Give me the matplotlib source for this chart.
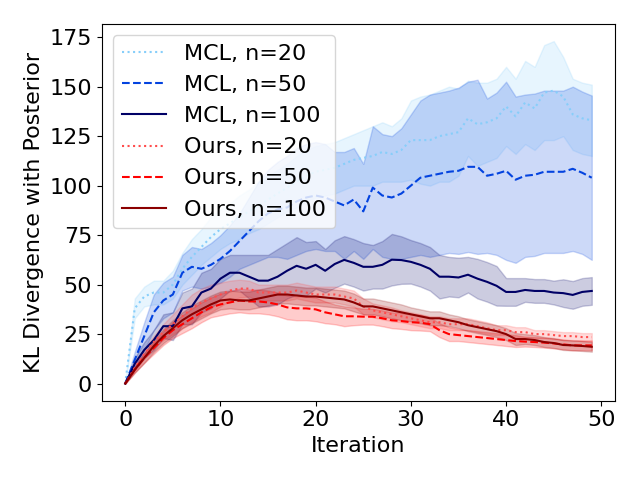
import numpy as np
import matplotlib
matplotlib.use("Agg")
import matplotlib.pyplot as plt

plt.rcParams['font.size'] = 16

iters = np.arange(50)

# MCL runs (mean and std)
mcl20 = [0, 38, 44, 46, 46, 50, 58, 64, 69, 74, 78, 81, 84, 87, 90, 93, 96, 99, 102, 105,
         107, 108, 109, 111, 113, 114, 115, 117, 116, 118, 123, 123, 123, 125, 126, 127, 134, 131, 132, 134,
         140, 135, 142, 139, 147, 148, 145, 136, 134, 133]
mcl20_std = [0, 5, 5, 6, 6, 7, 8, 9, 9, 10, 10, 10, 11, 11, 12, 12, 12, 12, 13, 13,
             13, 13, 13, 13, 13, 14, 15, 15, 14, 16, 20, 22, 23, 23, 24, 22, 19, 21, 20, 20,
             20, 19, 21, 21, 24, 25, 20, 18, 18, 18]

mcl50 = [0, 12, 24, 36, 42, 45, 56, 59, 58, 60, 63, 67, 72, 77, 82, 86, 88, 89, 92, 94,
         95, 94, 92, 90, 93, 87, 99, 95, 94, 96, 100, 104, 105, 106, 107, 107.5, 109.5, 109.5, 105, 106,
         107.5, 103, 105, 105.5, 107, 107, 107, 108.5, 106.5, 104]
mcl50_std = [0, 4, 7, 9, 9, 9, 9, 10, 10, 11, 12, 13, 14, 17, 20, 22, 24, 26, 27, 27,
             27, 27, 25, 27, 26, 24, 31, 31, 31, 33, 36, 39, 41, 41, 41, 42, 43, 44, 39, 41,
             45, 42, 41, 41, 41, 41, 41, 41.5, 41, 41.5]

mcl100 = [0, 10, 17, 22, 29, 29, 38, 39, 46, 48, 53, 56, 56, 54, 52, 52, 54, 57, 59.5, 58,
          60, 57, 60.4, 62.5, 61, 59, 59, 60, 62.6, 62.4, 61.5, 60, 58, 54, 54, 53.6, 55, 53, 51.4, 49.4,
          46.3, 46.3, 47.3, 46.8, 46.8, 46, 45.7, 44.8, 46.3, 46.8]
mcl100_std = [0, 3, 4, 5, 6, 7, 8, 9, 10, 10, 10, 9, 9, 11, 13, 13, 14, 14, 14.5, 13.5,
              12, 11, 12, 12, 12, 12, 11, 12, 13, 12, 11, 11, 11, 11, 10, 10, 9, 10, 10, 10,
              7, 7, 6, 6, 6, 6, 7, 7, 7, 7]

# our method
ours20 = [0, 8, 15, 21, 26, 30, 34, 38, 41, 43, 45, 47, 48, 48, 46, 46, 46, 46, 47, 46,
          45, 45, 45, 44, 43, 39, 37, 36, 35, 34, 33, 32, 31, 31, 30, 30, 30, 29, 28, 27,
          27, 26, 26, 25, 25, 24.5, 24, 24, 23.5, 23.5]
ours20_std = [0, 1.5, 2.5, 3, 4, 5, 6, 7, 7, 7, 6, 5, 4.5, 4, 4, 4, 4, 4, 4, 4,
              4, 4, 4, 4, 4, 4, 3.5, 3.5, 3.5, 3, 3, 3, 3, 3, 3, 3, 3, 3, 3, 2.5,
              2.5, 2.5, 2.5, 2, 2, 2, 2, 2, 2, 2]

ours50 = [0, 7, 13, 18, 23, 27, 30, 33, 36, 38.5, 40, 41, 42, 41.5, 41.5, 41, 40, 38.5, 38, 38,
          37.5, 36, 35, 34, 34, 33.8, 33.8, 33, 32, 31.6, 31, 30.8, 30, 27, 25, 24.5, 24, 23.5, 23, 22.5,
          22, 21.5, 21.2, 21, 20.7, 20.3, 19.8, 19.3, 19.3, 19.3]
ours50_std = [0, 1.5, 2.5, 3, 3.5, 4, 4.5, 5, 5, 5, 5.5, 5.5, 6, 6, 6, 6, 6, 6, 6, 6,
              6, 5.5, 5, 5, 4.5, 4, 4, 4, 4, 4, 4, 4, 3.5, 3.5, 3.5, 3, 3, 3, 3, 3,
              3, 3, 2.5, 2.5, 2.5, 2.5, 2.5, 2.5, 2.5, 2.5]

ours100 = [0, 7, 13, 19, 24, 28, 32, 35, 37.5, 40, 42, 42.5, 42, 42, 43, 44, 45, 45, 44.5, 44,
           44, 43.5, 43, 42.5, 41, 39, 39, 38, 37, 36, 35, 34, 33, 33, 32, 31, 29.5, 28.5, 27.5, 26.5,
           25, 22.5, 22.5, 22, 21, 20.5, 19.5, 19.3, 19, 18.6]
ours100_std = [0, 1.5, 2.5, 3, 3.5, 4, 4, 4.5, 4.5, 4.5, 4.5, 4.5, 4.5, 4.5, 4.5, 4.5, 4.5, 4.5, 4.5, 4.5,
               4.5, 4.5, 4.5, 4.5, 4.5, 4, 4, 4, 4, 4, 3.5, 3.5, 3.5, 3.5, 3, 3, 3, 3, 3, 3,
               3, 3, 2.5, 2.5, 2.5, 2.5, 2.5, 2.5, 2.5, 2.5]

runs = [
    ('MCL, n=20', mcl20, mcl20_std, 'lightskyblue', ':'),
    ('MCL, n=50', mcl50, mcl50_std, '#0343df', '--'),
    ('MCL, n=100', mcl100, mcl100_std, '#000066', '-'),
    ('Ours, n=20', ours20, ours20_std, '#ff4d4d', ':'),
    ('Ours, n=50', ours50, ours50_std, 'red', '--'),
    ('Ours, n=100', ours100, ours100_std, 'darkred', '-'),
]

fig, ax = plt.subplots(figsize=(6.4, 4.8))

for label, mean, std, color, ls in runs:
    mean = np.array(mean)
    std = np.array(std)
    ax.plot(iters, mean, color=color, linestyle=ls, label=label)
    ax.fill_between(iters, mean - std, mean + std, color=color, alpha=0.2)

ax.set_xlabel('Iteration')
ax.set_ylabel('KL Divergence with Posterior')
ax.legend(loc='upper left')

plt.tight_layout()
plt.savefig('out.png', dpi=100)
